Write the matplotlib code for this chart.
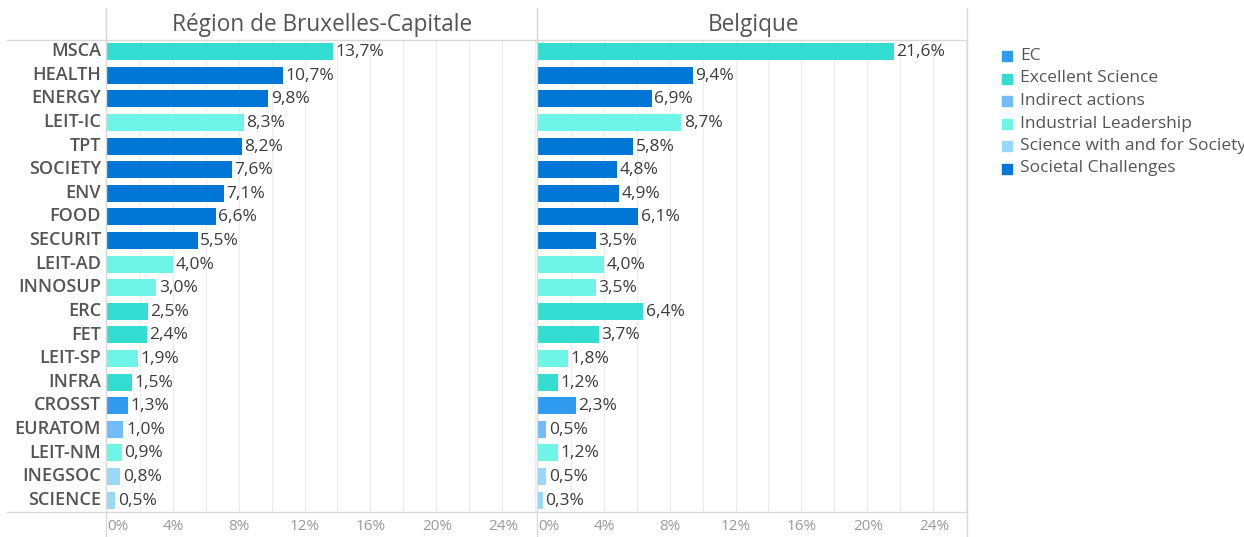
import matplotlib
matplotlib.use("Agg")
import matplotlib.pyplot as plt
from matplotlib.lines import Line2D
from matplotlib.patches import Rectangle

plt.rcParams["font.family"] = ["Open Sans", "DejaVu Sans"]

# --- data -------------------------------------------------------------
programmes = ["MSCA", "HEALTH", "ENERGY", "LEIT-IC", "TPT", "SOCIETY", "ENV",
              "FOOD", "SECURIT", "LEIT-AD", "INNOSUP", "ERC", "FET", "LEIT-SP",
              "INFRA", "CROSST", "EURATOM", "LEIT-NM", "INEGSOC", "SCIENCE"]
pillars = ["Excellent Science", "Societal Challenges", "Societal Challenges",
           "Industrial Leadership", "Societal Challenges", "Societal Challenges",
           "Societal Challenges", "Societal Challenges", "Societal Challenges",
           "Industrial Leadership", "Industrial Leadership", "Excellent Science",
           "Excellent Science", "Industrial Leadership", "Excellent Science",
           "EC", "Indirect actions", "Industrial Leadership",
           "Science with and for Society", "Science with and for Society"]
brussels = [13.7, 10.7, 9.8, 8.3, 8.2, 7.6, 7.1, 6.6, 5.5, 4.0, 3.0, 2.5,
            2.4, 1.9, 1.5, 1.3, 1.0, 0.9, 0.8, 0.5]
belgium = [21.6, 9.4, 6.9, 8.7, 5.8, 4.8, 4.9, 6.1, 3.5, 4.0, 3.5, 6.4,
           3.7, 1.8, 1.2, 2.3, 0.5, 1.2, 0.5, 0.3]
panel_titles = ["Région de Bruxelles-Capitale", "Belgique"]

legend_order = ["EC", "Excellent Science", "Indirect actions",
                "Industrial Leadership", "Science with and for Society",
                "Societal Challenges"]
pillar_colors = {
    "EC": "#2e9bf0",
    "Excellent Science": "#33ddd2",
    "Indirect actions": "#73bcfc",
    "Industrial Leadership": "#6ef5e8",
    "Science with and for Society": "#9ad8f7",
    "Societal Challenges": "#0077d6",
}

# --- layout (pixel based) ---------------------------------------------
W, H = 1244, 537
fig = plt.figure(figsize=(W / 100, H / 100), dpi=100)


def fx(x):
    return x / W


def fy(y):
    return 1 - y / H


grid_c = "#ececec"
line_c = "#d9d9d9"
n = len(programmes)
xmax = 430 / 16.5

panels = [(107, brussels), (538, belgium)]
for i, (left, values) in enumerate(panels):
    ax = fig.add_axes([fx(left), fy(512), fx(429), 471 / H])
    colors = [pillar_colors[p] for p in pillars]
    ax.barh(range(n), values, height=0.72, color=colors, zorder=2)
    ax.set_xlim(0, xmax)
    ax.set_ylim(n - 0.5, -0.45)
    for v_x in range(2, 27, 2):
        ax.axvline(v_x, color=grid_c, lw=0.8, zorder=0)
    for y, v in enumerate(values):
        ax.text(v + 0.15, y + 0.02, f"{v:.1f}%".replace(".", ","),
                va="center", ha="left", fontsize=12.5, color="#3c3c3c")
    ax.set_xticks([])
    ax.set_yticks([])
    for s in ax.spines.values():
        s.set_visible(False)
    # tick labels
    for t in range(0, 25, 4):
        xp = left + t * 16.5
        ha = "left" if t == 0 else "center"
        fig.text(fx(xp), fy(527), f"{t}%", ha=ha, va="center",
                 fontsize=11, color="#9a9a9a")
    # panel title
    fig.text(fx(left + 215), fy(25), panel_titles[i], ha="center",
             va="center", fontsize=16.3, color="#555555")

# category labels
for y, name in enumerate(programmes):
    yp = 51 + y * (449 / 19)
    fig.text(fx(101), fy(yp), name, ha="right", va="center", fontsize=13,
             fontweight="semibold", color="#555555")

# frame lines
for xv in (106, 537, 967):
    fig.add_artist(Line2D([fx(xv), fx(xv)], [fy(8), fy(537)], color=line_c,
                          lw=1, transform=fig.transFigure))
for yv in (40, 512):
    fig.add_artist(Line2D([fx(7), fx(967)], [fy(yv), fy(yv)], color=line_c,
                          lw=1, transform=fig.transFigure))

# legend
for k, name in enumerate(legend_order):
    yp = 56 + k * 22.5
    fig.add_artist(Rectangle((fx(1002), fy(yp + 5)), fx(10), 10 / H,
                             color=pillar_colors[name],
                             transform=fig.transFigure))
    fig.text(fx(1020), fy(yp), name, ha="left", va="center", fontsize=12.5,
             color="#555555")

fig.savefig("out.png", dpi=100)
